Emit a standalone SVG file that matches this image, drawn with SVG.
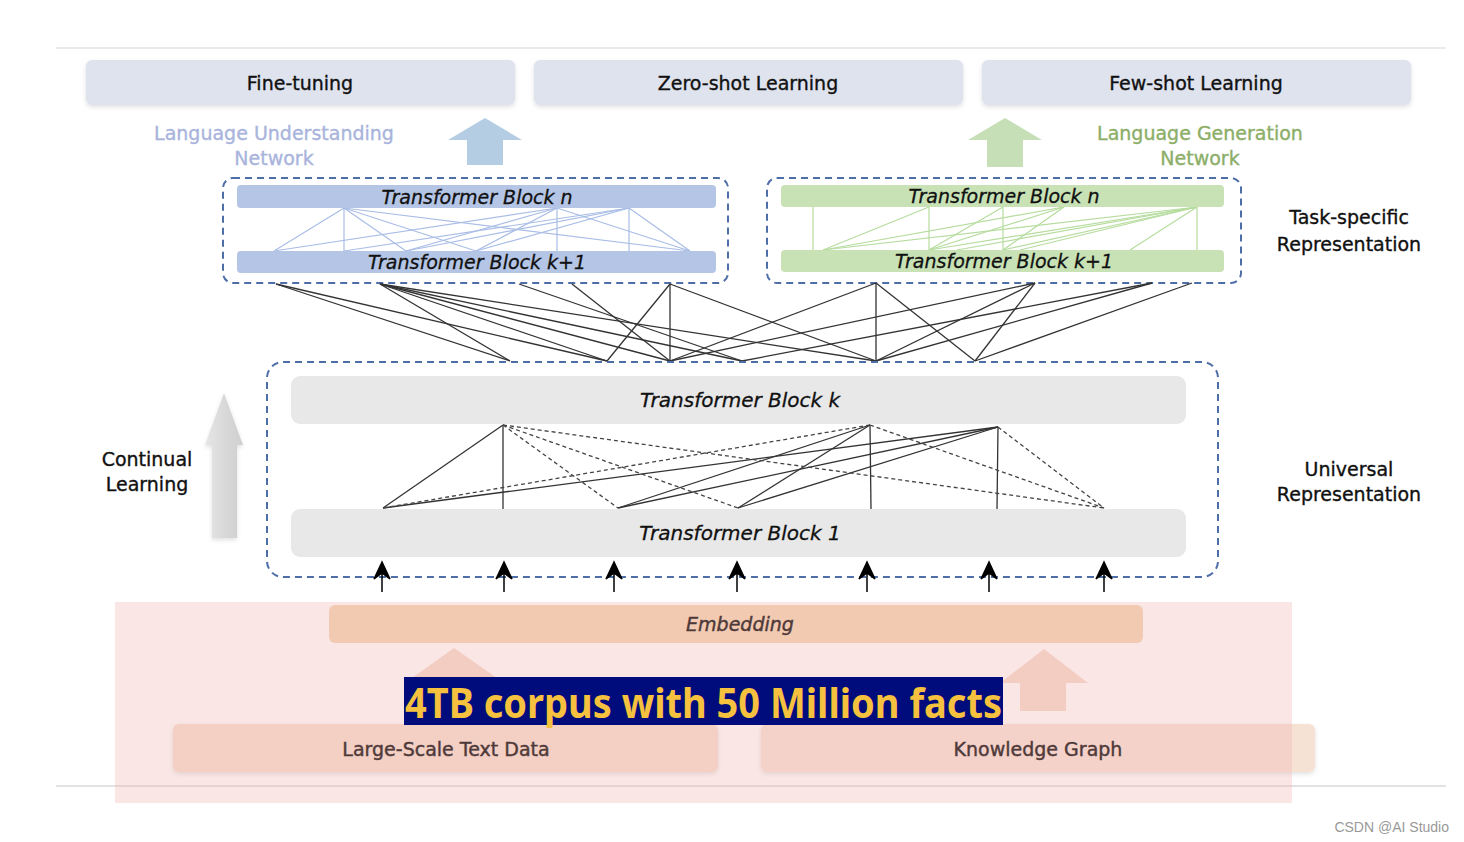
<svg xmlns="http://www.w3.org/2000/svg" width="1464" height="842" viewBox="0 0 1464 842">
<defs>
<style>
.lbl{font-family:"DejaVu Sans","Noto Sans",sans-serif;font-size:19px;fill:#111;text-anchor:middle;stroke:#111;stroke-width:0.35}
.blk{font-family:"DejaVu Sans","Noto Sans",sans-serif;font-size:19px;font-style:italic;fill:#111;text-anchor:middle;stroke:#111;stroke-width:0.3}
.low{fill:#000;stroke:#000;stroke-width:0.45}
.task{fill:#dfe3ee}
.dbox{fill:none;stroke:#4e6ea8;stroke-width:2;stroke-dasharray:7,5}
.bline{stroke:#a9bde6;stroke-width:1.2}
.gline{stroke:#b6dc9e;stroke-width:1.2}
.kline{stroke:#333;stroke-width:1.3}
.kdash{stroke:#444;stroke-width:1.3;stroke-dasharray:4,3}
.gray{fill:#e8e8e8}
</style>
<linearGradient id="cg" x1="0" y1="0" x2="1" y2="0">
<stop offset="0" stop-color="#e6e6e6"/><stop offset="0.5" stop-color="#d9d9d9"/><stop offset="1" stop-color="#cfcfcf"/>
</linearGradient>
<filter id="sh" x="-5%" y="-20%" width="110%" height="150%">
<feDropShadow dx="0" dy="2" stdDeviation="2" flood-color="#000" flood-opacity="0.12"/>
</filter>
<path id="inArrow" d="M0,30 V8 M0,0 L-8,17 L0,11 L8,17 Z" stroke="#000" stroke-width="1.5" fill="#000"/>
</defs>
<rect width="1464" height="842" fill="#fff"/>
<line x1="56" y1="48" x2="1446" y2="48" stroke="#e4e4e4" stroke-width="1.5"/>
<line x1="56" y1="786" x2="1446" y2="786" stroke="#d8d8d8" stroke-width="1.5"/>

<g id="task-finetuning"><rect class="task" x="86" y="60" width="429" height="45" rx="6" filter="url(#sh)"/><text class="lbl" x="300" y="90">Fine-tuning</text></g>
<g id="task-zeroshot"><rect class="task" x="534" y="60" width="429" height="45" rx="6" filter="url(#sh)"/><text class="lbl" x="748" y="90">Zero-shot Learning</text></g>
<g id="task-fewshot"><rect class="task" x="982" y="60" width="429" height="45" rx="6" filter="url(#sh)"/><text class="lbl" x="1196" y="90">Few-shot Learning</text></g>

<g id="lu-label"><text class="lbl" x="274" y="140" style="fill:#a9b4dc;stroke:#a9b4dc">Language Understanding</text><text class="lbl" x="274" y="165" style="fill:#a9b4dc;stroke:#a9b4dc">Network</text></g>
<g id="lg-label"><text class="lbl" x="1200" y="140" style="fill:#8cae68;stroke:#8cae68">Language Generation</text><text class="lbl" x="1200" y="165" style="fill:#8cae68;stroke:#8cae68">Network</text></g>
<g id="arrow-blue"><polygon points="485,118 522,140 503,140 503,165 467,165 467,140 448,140" fill="#b5cde3"/></g>
<g id="arrow-green"><polygon points="1005,118 1042,140 1023,140 1023,167 987,167 987,140 968,140" fill="#c6dfb6"/></g>

<g id="understanding-net">
<rect class="dbox" x="223" y="178" width="505" height="105" rx="10"/>
<g>
<line class="bline" x1="344" y1="208" x2="274" y2="251"/><line class="bline" x1="344" y1="208" x2="344" y2="251"/><line class="bline" x1="344" y1="208" x2="406" y2="251"/><line class="bline" x1="344" y1="208" x2="476" y2="251"/><line class="bline" x1="344" y1="208" x2="690" y2="251"/>
<line class="bline" x1="557" y1="208" x2="274" y2="251"/><line class="bline" x1="557" y1="208" x2="406" y2="251"/><line class="bline" x1="557" y1="208" x2="476" y2="251"/><line class="bline" x1="557" y1="208" x2="557" y2="251"/><line class="bline" x1="557" y1="208" x2="690" y2="251"/>
<line class="bline" x1="629" y1="208" x2="344" y2="251"/><line class="bline" x1="629" y1="208" x2="406" y2="251"/><line class="bline" x1="629" y1="208" x2="476" y2="251"/><line class="bline" x1="629" y1="208" x2="629" y2="251"/><line class="bline" x1="629" y1="208" x2="690" y2="251"/>
</g>
<rect x="237" y="185" width="479" height="23" rx="4" fill="#b4c5e5"/>
<text class="blk" x="477" y="204">Transformer Block n</text>
<rect x="237" y="251" width="479" height="22" rx="4" fill="#b4c5e5"/>
<text class="blk" x="477" y="269">Transformer Block k+1</text>
</g>

<g id="generation-net">
<rect class="dbox" x="767" y="178" width="474" height="105" rx="10"/>
<g>
<line class="gline" x1="813" y1="207" x2="813" y2="250"/><line class="gline" x1="929" y1="207" x2="929" y2="250"/><line class="gline" x1="1003" y1="207" x2="1003" y2="250"/><line class="gline" x1="1197" y1="207" x2="1197" y2="250"/>
<line class="gline" x1="929" y1="207" x2="823" y2="250"/><line class="gline" x1="1003" y1="207" x2="929" y2="250"/><line class="gline" x1="1064" y1="207" x2="823" y2="250"/><line class="gline" x1="1064" y1="207" x2="929" y2="250"/><line class="gline" x1="1064" y1="207" x2="1003" y2="250"/>
<line class="gline" x1="1197" y1="207" x2="823" y2="250"/><line class="gline" x1="1197" y1="207" x2="929" y2="250"/><line class="gline" x1="1197" y1="207" x2="957" y2="250"/><line class="gline" x1="1197" y1="207" x2="1003" y2="250"/><line class="gline" x1="1197" y1="207" x2="1020" y2="250"/><line class="gline" x1="1197" y1="207" x2="1130" y2="250"/>
</g>
<rect x="781" y="185" width="443" height="22" rx="4" fill="#c8e2b6"/>
<text class="blk" x="1004" y="203">Transformer Block n</text>
<rect x="781" y="250" width="443" height="22" rx="4" fill="#c8e2b6"/>
<text class="blk" x="1004" y="268">Transformer Block k+1</text>
</g>

<g id="connectors">
<line class="kline" x1="276" y1="284" x2="510" y2="361"/><line class="kline" x1="276" y1="284" x2="607" y2="361"/>
<line class="kline" x1="380" y1="284" x2="510" y2="361"/><line class="kline" x1="380" y1="284" x2="607" y2="361"/><line class="kline" x1="380" y1="284" x2="670" y2="361"/><line class="kline" x1="380" y1="284" x2="742" y2="361"/><line class="kline" x1="380" y1="284" x2="876" y2="361"/>
<line class="kline" x1="519" y1="284" x2="742" y2="361"/><line class="kline" x1="572" y1="284" x2="670" y2="361"/>
<line class="kline" x1="670" y1="284" x2="607" y2="361"/><line class="kline" x1="670" y1="284" x2="670" y2="361"/><line class="kline" x1="670" y1="284" x2="876" y2="361"/>
<line class="kline" x1="876" y1="283" x2="670" y2="361"/><line class="kline" x1="876" y1="283" x2="876" y2="361"/><line class="kline" x1="876" y1="283" x2="975" y2="361"/>
<line class="kline" x1="1035" y1="283" x2="670" y2="361"/><line class="kline" x1="1035" y1="283" x2="876" y2="361"/><line class="kline" x1="1035" y1="283" x2="975" y2="361"/>
<line class="kline" x1="1152" y1="283" x2="742" y2="361"/><line class="kline" x1="1152" y1="283" x2="876" y2="361"/>
<line class="kline" x1="1192" y1="283" x2="975" y2="361"/>
</g>

<g id="universal">
<rect class="dbox" x="267" y="362" width="951" height="215" rx="16"/>
<rect class="gray" x="291" y="376" width="895" height="48" rx="9"/>
<text class="blk" x="740" y="407" style="font-size:20px">Transformer Block k</text>
<g>
<line class="kline" x1="503" y1="425" x2="383" y2="508"/><line class="kline" x1="503" y1="425" x2="503" y2="509"/>
<line class="kline" x1="870" y1="425" x2="871" y2="509"/><line class="kline" x1="998" y1="427" x2="997" y2="509"/>
<line class="kline" x1="383" y1="508" x2="998" y2="427"/><line class="kline" x1="618" y1="508" x2="870" y2="425"/><line class="kline" x1="618" y1="508" x2="998" y2="427"/><line class="kline" x1="738" y1="508" x2="870" y2="425"/><line class="kline" x1="738" y1="508" x2="998" y2="427"/>
<line class="kdash" x1="503" y1="425" x2="618" y2="508"/><line class="kdash" x1="503" y1="425" x2="738" y2="508"/><line class="kdash" x1="503" y1="425" x2="1104" y2="508"/><line class="kdash" x1="383" y1="508" x2="870" y2="425"/><line class="kdash" x1="870" y1="425" x2="1104" y2="508"/><line class="kdash" x1="998" y1="427" x2="1104" y2="508"/>
</g>
<rect class="gray" x="291" y="509" width="895" height="48" rx="9"/>
<text class="blk" x="740" y="540" style="font-size:20px">Transformer Block 1</text>
</g>

<g id="input-arrows">
<use href="#inArrow" x="382" y="562"/><use href="#inArrow" x="504" y="562"/><use href="#inArrow" x="614" y="562"/><use href="#inArrow" x="737" y="562"/><use href="#inArrow" x="867" y="562"/><use href="#inArrow" x="989" y="562"/><use href="#inArrow" x="1104" y="562"/>
</g>

<g id="continual">
<polygon points="224,393 243,445 237,445 237,538 212,538 212,445 205,445" fill="url(#cg)" filter="url(#sh)"/>
<text class="lbl" x="147" y="466">Continual</text><text class="lbl" x="147" y="491">Learning</text>
</g>
<g id="task-rep"><text class="lbl" x="1349" y="224">Task-specific</text><text class="lbl" x="1349" y="251">Representation</text></g>
<g id="univ-rep"><text class="lbl" x="1349" y="476">Universal</text><text class="lbl" x="1349" y="501">Representation</text></g>

<g id="embedding"><rect x="329" y="605" width="814" height="38" rx="6" fill="#f2d6b2"/><text class="blk low" x="740" y="631">Embedding</text></g>
<g id="arrow-left-pink"><polygon points="454,648 497,678 474,678 474,700 433,700 433,678 412,678" fill="#f4dacb"/></g>
<g id="arrow-right-pink"><polygon points="1044,649 1088,683 1066,683 1066,711 1020,711 1020,683 1000,683" fill="#f4dacb"/></g>
<g id="text-data"><rect x="173" y="724" width="545" height="48" rx="6" fill="#f4ddcd" filter="url(#sh)"/><text class="lbl low" x="446" y="756">Large-Scale Text Data</text></g>
<g id="knowledge-graph"><rect x="761" y="724" width="554" height="48" rx="6" fill="#f6e2d4" filter="url(#sh)"/><text class="lbl low" x="1038" y="756">Knowledge Graph</text></g>
<rect x="115" y="602" width="1177" height="201" fill="rgb(244,178,178)" fill-opacity="0.32"/>

<g id="banner">
<rect x="404" y="677" width="599" height="48" fill="#000c7b"/>
<text x="405" y="718" font-family="'Noto Sans','Open Sans',sans-serif" font-weight="bold" font-size="41" fill="#f6c13e" textLength="597" lengthAdjust="spacingAndGlyphs">4TB corpus with 50 Million facts</text>
</g>
<text x="1449" y="832" font-family="'Liberation Sans',sans-serif" font-size="14" fill="#999" text-anchor="end">CSDN @AI Studio</text>
</svg>
